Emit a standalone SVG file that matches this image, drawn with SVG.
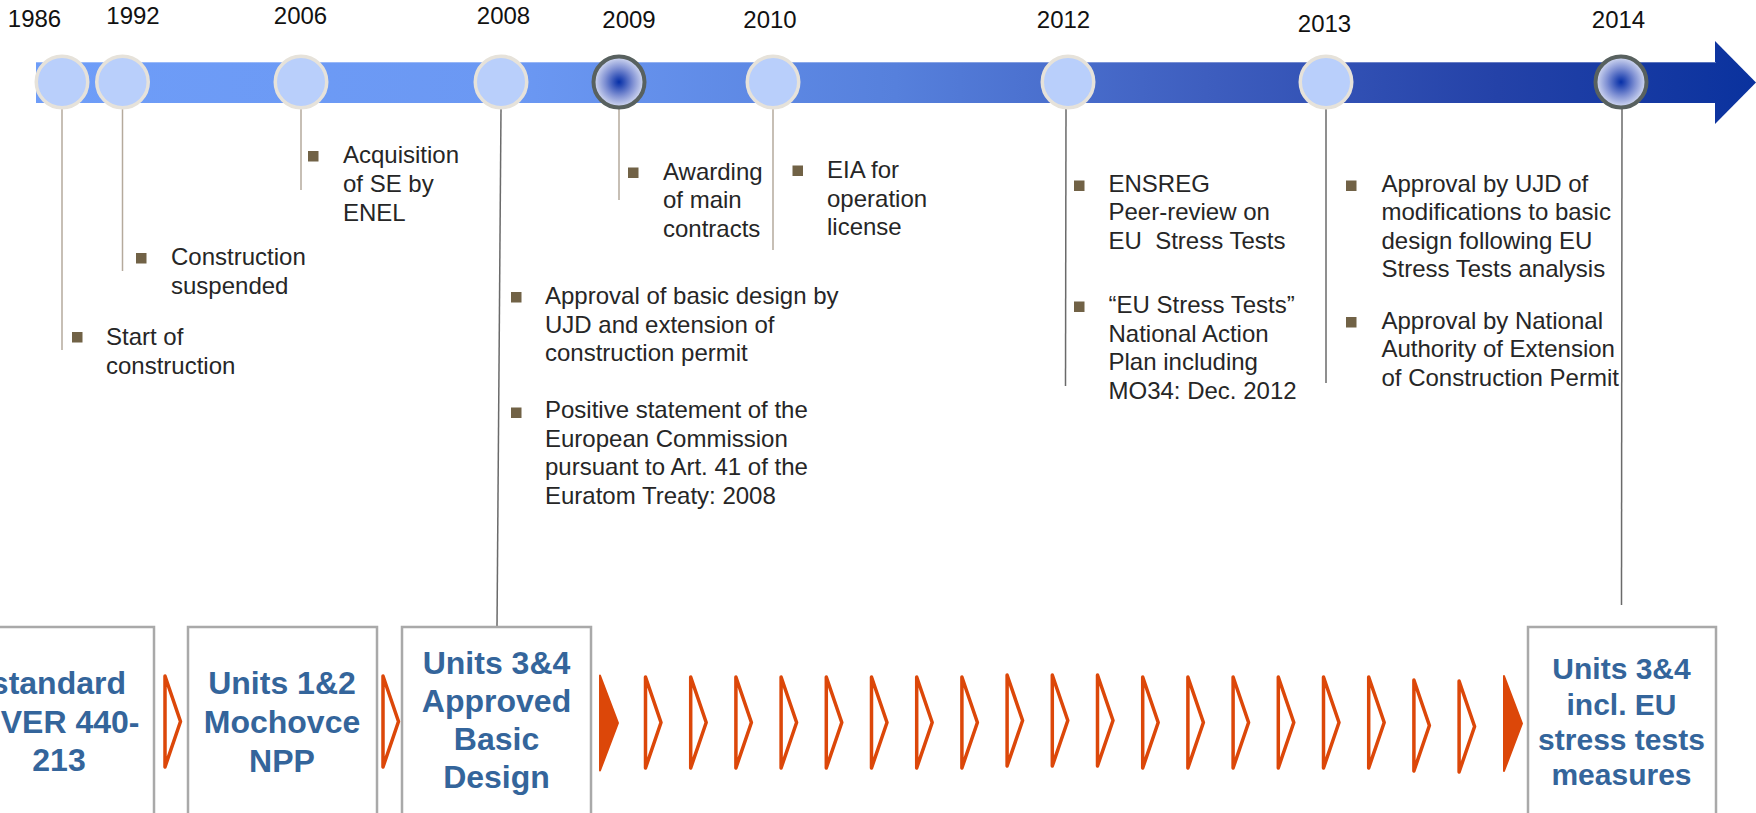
<svg xmlns="http://www.w3.org/2000/svg" width="1756" height="813" viewBox="0 0 1756 813">
<defs>
<linearGradient id="barGrad" gradientUnits="userSpaceOnUse" x1="36" y1="0" x2="1756" y2="0">
<stop offset="0" stop-color="#6e9df8"/>
<stop offset="0.28" stop-color="#6b98f3"/>
<stop offset="0.5" stop-color="#5680dc"/>
<stop offset="0.68" stop-color="#3e5ebf"/>
<stop offset="0.85" stop-color="#2442a8"/>
<stop offset="1" stop-color="#0a329e"/>
</linearGradient>
<radialGradient id="dotGrad" cx="0.5" cy="0.5" r="0.5">
<stop offset="0" stop-color="#0630a8"/>
<stop offset="0.18" stop-color="#2c4db5"/>
<stop offset="0.55" stop-color="#7f90d3"/>
<stop offset="1" stop-color="#d8def3"/>
</radialGradient>
<path id="chevO" d="M0,0 L15.5,45.5 L0,91 Z"/>
<path id="chevF" d="M0,0 L18,47.5 L0,95 Z"/>
</defs>
<style>
.yr{font-family:"Liberation Sans",Arial,sans-serif;font-size:24px;fill:#111;text-anchor:middle}
.ev{font-family:"Liberation Sans",Arial,sans-serif;font-size:24px;fill:#262626}
.bul{fill:#716246}
.lt{fill:#b9cffb;stroke:#e6e2da;stroke-width:3.5}
.dk{fill:url(#dotGrad);stroke:#58615f;stroke-width:4}
.box{fill:#fff;stroke:#a9a9a9;stroke-width:2.5}
.bt{font-family:"Liberation Sans",Arial,sans-serif;font-weight:bold;font-size:32px;fill:#34659b;text-anchor:middle}
.bt4{font-family:"Liberation Sans",Arial,sans-serif;font-weight:bold;font-size:30px;fill:#34659b;text-anchor:middle}
.co{fill:#fff;stroke:#dc4709;stroke-width:3.5;stroke-linejoin:round}
.cf{fill:#dc4709;stroke:#dc4709;stroke-width:2;stroke-linejoin:round}
.ln1{stroke:#b5aa9c;stroke-width:1.5;fill:none}
.ln2{stroke:#6a6a6a;stroke-width:1.5;fill:none}
</style>

<g id="timeline-bar">
<rect x="36" y="62" width="1680" height="41" fill="url(#barGrad)"/>
<polygon points="1715,41 1756,82.5 1715,124" fill="url(#barGrad)"/>
<line x1="36" y1="62.5" x2="1716" y2="62.5" stroke="#ffffff" stroke-opacity="0.3" stroke-width="1"/>
</g>

<g id="connectors">
<line class="ln1" x1="62" y1="109" x2="62" y2="350"/>
<line class="ln1" x1="122.5" y1="109" x2="122.5" y2="271"/>
<line class="ln1" x1="301" y1="109" x2="301" y2="190"/>
<line class="ln2" x1="501" y1="109" x2="497" y2="627"/>
<line class="ln1" x1="619" y1="109" x2="619" y2="200"/>
<line class="ln1" x1="773" y1="109" x2="773" y2="250"/>
<line class="ln2" x1="1066" y1="109" x2="1065.5" y2="386"/>
<line class="ln2" x1="1326" y1="109" x2="1326" y2="383"/>
<line class="ln2" x1="1622" y1="109" x2="1621.5" y2="605"/>
</g>

<g id="node-1986">
<circle class="lt" cx="62" cy="82" r="25.75"/>
<text class="yr" x="34.5" y="27">1986</text>
<rect class="bul" x="72" y="332" width="10.5" height="10.5"/>
<text class="ev" x="106"><tspan x="106" y="345">Start of</tspan><tspan x="106" y="373.5">construction</tspan></text>
</g>

<g id="node-1992">
<circle class="lt" cx="122.5" cy="82" r="25.75"/>
<text class="yr" x="133" y="24">1992</text>
<rect class="bul" x="136" y="253" width="10.5" height="10.5"/>
<text class="ev"><tspan x="171" y="265">Construction</tspan><tspan x="171" y="293.5">suspended</tspan></text>
</g>

<g id="node-2006">
<circle class="lt" cx="301" cy="82" r="25.75"/>
<text class="yr" x="300.5" y="24">2006</text>
<rect class="bul" x="308" y="151" width="10.5" height="10.5"/>
<text class="ev"><tspan x="343" y="163">Acquisition</tspan><tspan x="343" y="192">of SE by</tspan><tspan x="343" y="220.5">ENEL</tspan></text>
</g>

<g id="node-2008">
<circle class="lt" cx="501" cy="82" r="25.75"/>
<text class="yr" x="503.5" y="23.5">2008</text>
<rect class="bul" x="511" y="292" width="10.5" height="10.5"/>
<text class="ev"><tspan x="545" y="304">Approval of basic design by</tspan><tspan x="545" y="332.7">UJD and extension of</tspan><tspan x="545" y="361">construction permit</tspan></text>
<rect class="bul" x="511" y="407.5" width="10.5" height="10.5"/>
<text class="ev"><tspan x="545" y="418">Positive statement of the</tspan><tspan x="545" y="446.7">European Commission</tspan><tspan x="545" y="475">pursuant to Art. 41 of the</tspan><tspan x="545" y="503.5">Euratom Treaty: 2008</tspan></text>
</g>

<g id="node-2009">
<circle class="dk" cx="619" cy="82" r="25.5"/>
<text class="yr" x="629" y="27.5">2009</text>
<rect class="bul" x="628" y="167.5" width="10.5" height="10.5"/>
<text class="ev"><tspan x="663" y="179.5">Awarding</tspan><tspan x="663" y="208">of main</tspan><tspan x="663" y="236.7">contracts</tspan></text>
</g>

<g id="node-2010">
<circle class="lt" cx="773" cy="82" r="25.75"/>
<text class="yr" x="770" y="27.5">2010</text>
<rect class="bul" x="792.5" y="165.5" width="10.5" height="10.5"/>
<text class="ev"><tspan x="827" y="178">EIA for</tspan><tspan x="827" y="206.7">operation</tspan><tspan x="827" y="235">license</tspan></text>
</g>

<g id="node-2012">
<circle class="lt" cx="1068" cy="82" r="25.75"/>
<text class="yr" x="1063.5" y="27.5">2012</text>
<rect class="bul" x="1074" y="180.5" width="10.5" height="10.5"/>
<text class="ev" xml:space="preserve"><tspan x="1108.5" y="191.7">ENSREG</tspan><tspan x="1108.5" y="220">Peer-review on</tspan><tspan x="1108.5" y="249">EU  Stress Tests</tspan></text>
<rect class="bul" x="1074" y="301.5" width="10.5" height="10.5"/>
<text class="ev"><tspan x="1108.5" y="313">“EU Stress Tests”</tspan><tspan x="1108.5" y="341.7">National Action</tspan><tspan x="1108.5" y="370">Plan including</tspan><tspan x="1108.5" y="398.5">MO34: Dec. 2012</tspan></text>
</g>

<g id="node-2013">
<circle class="lt" cx="1326" cy="82" r="25.75"/>
<text class="yr" x="1324.5" y="31.5">2013</text>
<rect class="bul" x="1346" y="180.5" width="10.5" height="10.5"/>
<text class="ev"><tspan x="1381.5" y="191.7">Approval by UJD of</tspan><tspan x="1381.5" y="220">modifications to basic</tspan><tspan x="1381.5" y="249">design following EU</tspan><tspan x="1381.5" y="277">Stress Tests analysis</tspan></text>
<rect class="bul" x="1346" y="317" width="10.5" height="10.5"/>
<text class="ev"><tspan x="1381.5" y="328.5">Approval by National</tspan><tspan x="1381.5" y="357">Authority of Extension</tspan><tspan x="1381.5" y="385.5">of Construction Permit</tspan></text>
</g>

<g id="node-2014">
<circle class="dk" cx="1621" cy="82" r="25.5"/>
<text class="yr" x="1618.5" y="27.5">2014</text>
</g>

<g id="box-vver">
<rect class="box" x="-35" y="627" width="189" height="210"/>
<text class="bt" x="126" y="694" text-anchor="end" style="text-anchor:end">standard</text>
<text class="bt" x="139.5" y="732.5" style="text-anchor:end">VER 440-</text>
<text class="bt" x="59" y="771">213</text>
</g>

<g id="box-units12">
<rect class="box" x="188" y="627" width="189" height="210"/>
<text class="bt"><tspan x="282" y="694">Units 1&amp;2</tspan><tspan x="282" y="733">Mochovce</tspan><tspan x="282" y="772">NPP</tspan></text>
</g>

<g id="box-units34-basic">
<rect class="box" x="402" y="627" width="189" height="210"/>
<text class="bt"><tspan x="496.5" y="674">Units 3&amp;4</tspan><tspan x="496.5" y="712">Approved</tspan><tspan x="496.5" y="750">Basic</tspan><tspan x="496.5" y="788">Design</tspan></text>
</g>

<g id="box-units34-eu">
<rect class="box" x="1528" y="627" width="188" height="210"/>
<text class="bt4"><tspan x="1621.5" y="679">Units 3&amp;4</tspan><tspan x="1621.5" y="715">incl. EU</tspan><tspan x="1621.5" y="750">stress tests</tspan><tspan x="1621.5" y="785">measures</tspan></text>
</g>

<g id="chevrons">
<use href="#chevO" class="co" x="165" y="676"/>
<use href="#chevO" class="co" x="383" y="676"/>
<use href="#chevF" class="cf" x="600" y="675.5"/>
<use href="#chevO" class="co" x="645.5" y="677"/>
<use href="#chevO" class="co" x="690.7" y="677"/>
<use href="#chevO" class="co" x="735.9" y="677"/>
<use href="#chevO" class="co" x="781.1" y="677"/>
<use href="#chevO" class="co" x="826.3" y="677"/>
<use href="#chevO" class="co" x="871.5" y="677"/>
<use href="#chevO" class="co" x="916.7" y="677"/>
<use href="#chevO" class="co" x="961.9" y="677"/>
<use href="#chevO" class="co" x="1007.1" y="675"/>
<use href="#chevO" class="co" x="1052.3" y="675"/>
<use href="#chevO" class="co" x="1097.5" y="675"/>
<use href="#chevO" class="co" x="1142.7" y="677"/>
<use href="#chevO" class="co" x="1187.9" y="677"/>
<use href="#chevO" class="co" x="1233.1" y="677"/>
<use href="#chevO" class="co" x="1278.3" y="677"/>
<use href="#chevO" class="co" x="1323.5" y="677"/>
<use href="#chevO" class="co" x="1368.7" y="677"/>
<use href="#chevO" class="co" x="1413.9" y="680"/>
<use href="#chevO" class="co" x="1459.1" y="681"/>
<use href="#chevF" class="cf" x="1504" y="676"/>
</g>
</svg>
